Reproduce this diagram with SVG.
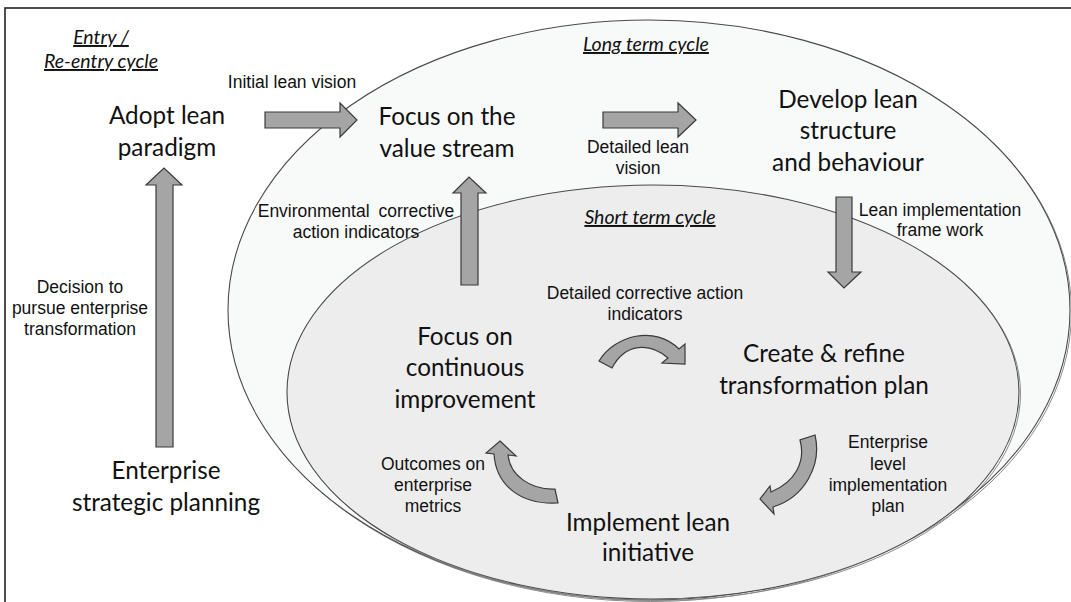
<svg xmlns="http://www.w3.org/2000/svg" width="1071" height="602" viewBox="0 0 1071 602">
<style>
.big{font-family:Lato,"Open Sans",sans-serif;font-size:24.3px;fill:#111;text-anchor:middle}
.sm{font-family:"Liberation Sans",Arial,sans-serif;font-size:17.5px;fill:#111;text-anchor:middle}
.ttl{font-family:Lato,"Open Sans",sans-serif;font-style:italic;font-size:19.5px;fill:#111;text-anchor:middle;text-decoration:underline}
.arr{fill:#a5a5a5;stroke:#3a3a3a;stroke-width:1.2;stroke-linejoin:miter}
.shadow{fill:none;stroke:#8a8a8a;stroke-width:1}
.ell{stroke:#4a4a4a;stroke-width:1.1}
</style>
<rect x="0" y="0" width="1071" height="602" fill="#fff"/>
<rect x="5" y="8" width="1090" height="610" fill="none" stroke="#222" stroke-width="1.6"/>
<g id="long-term-cycle">
<ellipse class="shadow" cx="650.5" cy="311.5" rx="421" ry="290"/>
<ellipse class="ell" cx="649" cy="310" rx="421" ry="290" fill="#f8f9f9"/>
<text class="ttl" x="646" y="51">Long term cycle</text>
</g>
<g id="short-term-cycle">
<ellipse class="shadow" cx="654.5" cy="393.5" rx="366" ry="207"/>
<ellipse class="ell" cx="653" cy="392" rx="366" ry="207" fill="#ededed"/>
<text class="ttl" x="650" y="224">Short term cycle</text>
</g>
<g id="entry-cycle">
<text class="ttl" x="101" y="44">Entry /</text>
<text class="ttl" x="101" y="68">Re-entry cycle</text>
</g>
<g id="connectors">
<path class="arr" d="M265,112 H340 V103 L357,120 L340,137 V128 H265 Z"/>
<path class="arr" d="M603,112 H678 V103 L696,120 L678,137 V128 H603 Z"/>
<path class="arr" d="M156,447 V185 H146 L164,168 L182,185 H173 V447 Z"/>
<path class="arr" d="M461,285 V193 H453 L469,177 L486,193 H478 V285 Z"/>
<path class="arr" d="M836,197 V272 H828 L844,288 L861,272 H852 V197 Z"/>
<path class="arr" d="M599,361 C615,335 655,325 679,349 L685,344 L685,364 L662,363 L668,358 C650,342 625,343 612,368 Z"/>
<path class="arr" d="M815,435 L800,440 C806,462 795,482 771,492 L770,486 L760,499 L774,514 L773,507 C805,497 822,465 815,435 Z"/>
<path class="arr" d="M500,441 L516,456 L508,455 C510,475 530,490 555,489 L558,503 C520,505 496,485 494,454 L486,453 Z"/>
<text class="sm" x="292" y="88">Initial lean vision</text>
<text class="sm" x="638" y="153">Detailed lean</text>
<text class="sm" x="638" y="174">vision</text>
<text class="sm" x="80" y="293">Decision to</text>
<text class="sm" x="80" y="314">pursue enterprise</text>
<text class="sm" x="80" y="335">transformation</text>
<text class="sm" x="356" y="217" word-spacing="4">Environmental corrective</text>
<text class="sm" x="356" y="238">action indicators</text>
<text class="sm" x="940" y="216">Lean implementation</text>
<text class="sm" x="940" y="236">frame work</text>
<text class="sm" x="645" y="299">Detailed corrective action</text>
<text class="sm" x="645" y="320">indicators</text>
<text class="sm" x="888" y="448">Enterprise</text>
<text class="sm" x="888" y="470">level</text>
<text class="sm" x="888" y="491">implementation</text>
<text class="sm" x="888" y="512">plan</text>
<text class="sm" x="433" y="470">Outcomes on</text>
<text class="sm" x="433" y="491">enterprise</text>
<text class="sm" x="433" y="512">metrics</text>
</g>
<g id="adopt-lean-paradigm">
<text class="big" x="167" y="124">Adopt lean</text>
<text class="big" x="167" y="156">paradigm</text>
</g>
<g id="focus-value-stream">
<text class="big" x="447" y="125">Focus on the</text>
<text class="big" x="447" y="157">value stream</text>
</g>
<g id="develop-lean-structure">
<text class="big" x="848" y="108">Develop lean</text>
<text class="big" x="848" y="139">structure</text>
<text class="big" x="848" y="171">and behaviour</text>
</g>
<g id="focus-continuous-improvement">
<text class="big" x="465" y="345">Focus on</text>
<text class="big" x="465" y="376">continuous</text>
<text class="big" x="465" y="408">improvement</text>
</g>
<g id="create-refine-plan">
<text class="big" x="824" y="362">Create &amp; refine</text>
<text class="big" x="824" y="394">transformation plan</text>
</g>
<g id="implement-lean-initiative">
<text class="big" x="648" y="531">Implement lean</text>
<text class="big" x="648" y="561">initiative</text>
</g>
<g id="enterprise-strategic-planning">
<text class="big" x="166" y="479">Enterprise</text>
<text class="big" x="166" y="511">strategic planning</text>
</g>
</svg>
